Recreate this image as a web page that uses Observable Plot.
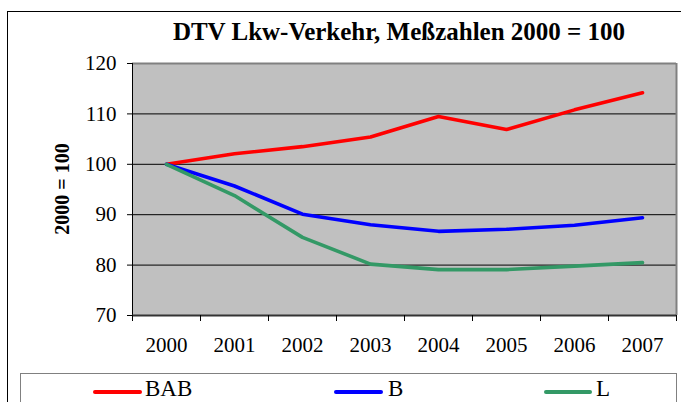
<!DOCTYPE html>
<html>
<head>
<meta charset="utf-8">
<script src="https://cdn.jsdelivr.net/npm/d3@7"></script>
<script src="https://cdn.jsdelivr.net/npm/@observablehq/plot@0.6"></script>
<style>
  html, body { margin: 0; padding: 0; background: #fff; }
  #wrap { position: relative; width: 681px; height: 402px; overflow: hidden; color: #000; }
  #frame { position: absolute; left: 7px; top: 11px; width: 720px; height: 500px; border: 1.5px solid #000; box-sizing: border-box; }
  #title { position: absolute; left: 99px; width: 600px; top: 19px; text-align: center; font-weight: bold; font-size: 25px; line-height: 25px; white-space: nowrap; }
  #ytitle { position: absolute; left: 62px; top: 189px; transform: translate(-50%, -50%) rotate(-90deg); font-weight: bold; font-size: 20px; line-height: 20px; white-space: nowrap; }
  #chart { position: absolute; left: 0; top: 50px; }
  #legend { position: absolute; left: 20px; top: 373px; width: 657px; height: 80px; border: 1px solid #808080; box-sizing: border-box; }
  .lg-line { position: absolute; height: 4px; border-radius: 2px; top: 390px; }
  .lg-text { position: absolute; top: 379px; font-size: 23px; line-height: 20px; white-space: nowrap; }
</style>
</head>
<body>
<div id="wrap">
  <div id="frame"></div>
  <div id="title"></div>
  <div id="ytitle"></div>
  <div id="chart"></div>
  <div id="legend"></div>
</div>
<script>
const FONT = "'Liberation Serif', 'Times New Roman', serif";
const titleText = "DTV Lkw-Verkehr, Meßzahlen 2000 = 100";
const yTitle = "2000 = 100";
const years = [2000, 2001, 2002, 2003, 2004, 2005, 2006, 2007];
const seriesNames = ["BAB", "B", "L"];
const seriesColors = ["#ff0000", "#0000ff", "#339966"];
const valuesBAB = [100, 102.1, 103.5, 105.4, 109.5, 106.9, 110.8, 114.2];
const valuesB   = [100, 95.7, 90.1, 88.0, 86.7, 87.1, 87.9, 89.4];
const valuesL   = [100, 93.8, 85.5, 80.2, 79.1, 79.1, 79.8, 80.5];
const yTicks = [70, 80, 90, 100, 110, 120];

const wrap = document.getElementById("wrap");
wrap.style.fontFamily = FONT;
const titleEl = document.getElementById("title");
titleEl.textContent = titleText;
titleEl.style.fontFamily = FONT;
const ytEl = document.getElementById("ytitle");
ytEl.textContent = yTitle;
ytEl.style.fontFamily = FONT;

const seriesValues = [valuesBAB, valuesB, valuesL];
const data = [];
seriesNames.forEach((s, i) => years.forEach((yr, j) => data.push({series: s, year: yr, value: seriesValues[i][j]})));

const bounds = [years[0] - 0.5, ...years.map(y => y + 0.5)];
const yMin = yTicks[0], yMax = yTicks[yTicks.length - 1];

const chart = Plot.plot({
  width: 681,
  height: 315,
  marginTop: 13,
  marginBottom: 50,
  marginLeft: 132,
  marginRight: 5,
  x: {domain: [bounds[0], bounds[bounds.length - 1]]},
  y: {domain: [yMin, yMax]},
  color: {domain: seriesNames, range: seriesColors},
  style: {fontFamily: FONT, fontSize: "21px", color: "#000", background: "transparent", overflow: "visible"},
  marks: [
    Plot.frame({fill: "#c0c0c0", stroke: "none"}),
    Plot.ruleY(yTicks.slice(1, -1), {stroke: "#000", strokeWidth: 1}),
    Plot.ruleY([yMax], {stroke: "#808080", strokeWidth: 2}),
    Plot.ruleX([bounds[bounds.length - 1]], {stroke: "#808080", strokeWidth: 2}),
    Plot.line(data, {x: "year", y: "value", z: "series", stroke: "series", strokeWidth: 3.6, strokeLinejoin: "round", strokeLinecap: "round"}),
    Plot.ruleX([bounds[0]], {stroke: "#000", strokeWidth: 1}),
    Plot.ruleY([yMin], {stroke: "#333", strokeWidth: 2}),
    Plot.axisY({ticks: yTicks, tickSize: 5, tickPadding: 11, label: null, tickFormat: d => String(d), stroke: "#000"}),
    Plot.axisX({ticks: years, tickSize: 0, tickPadding: 22, label: null, tickFormat: d => String(d)}),
    Plot.axisX({ticks: bounds, tickSize: 6, label: null, tickFormat: () => "", stroke: "#000"})
  ]
});
chart.style.fontFamily = FONT;
chart.querySelectorAll("text").forEach(t => t.style.fontFamily = FONT);
document.getElementById("chart").appendChild(chart);

// legend
const lgLine = [[93, 142], [334, 383], [544, 592]];
const lgText = [145, 388, 596];
seriesNames.forEach((s, i) => {
  const ln = document.createElement("div");
  ln.className = "lg-line";
  ln.style.left = lgLine[i][0] + "px";
  ln.style.width = (lgLine[i][1] - lgLine[i][0]) + "px";
  ln.style.background = seriesColors[i];
  wrap.appendChild(ln);
  const tx = document.createElement("div");
  tx.className = "lg-text";
  tx.style.left = lgText[i] + "px";
  tx.style.fontFamily = FONT;
  tx.textContent = s;
  wrap.appendChild(tx);
});
</script>
</body>
</html>
